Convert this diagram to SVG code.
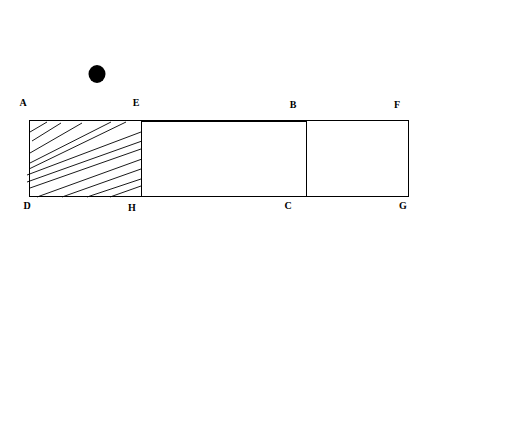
<svg xmlns="http://www.w3.org/2000/svg" width="525" height="432" viewBox="0 0 525 432">
<style>
.edge{fill:none;stroke:#000;stroke-width:1}
.hatch{fill:none;stroke:#000;stroke-width:0.9}
.lbl{font-family:"Liberation Serif","DejaVu Serif",serif;font-size:10px;font-weight:bold;fill:#000;text-anchor:middle}
</style>
<rect width="525" height="432" fill="#fff"/>
<g id="dot"><ellipse cx="97" cy="74" rx="8.5" ry="9" fill="#000"/></g>
<g id="hatching">
<line class="hatch" x1="30" y1="132" x2="47" y2="122"/>
<line class="hatch" x1="32" y1="141" x2="61" y2="123"/>
<line class="hatch" x1="30" y1="153" x2="82" y2="123"/>
<line class="hatch" x1="30" y1="163" x2="111" y2="122"/>
<line class="hatch" x1="29" y1="169" x2="126" y2="122"/>
<line class="hatch" x1="27" y1="175" x2="141" y2="132"/>
<line class="hatch" x1="27" y1="182" x2="142" y2="141"/>
<line class="hatch" x1="30" y1="188" x2="141" y2="149"/>
<line class="hatch" x1="37" y1="197" x2="142" y2="159"/>
<line class="hatch" x1="62" y1="197" x2="141" y2="169"/>
<line class="hatch" x1="87" y1="197" x2="141" y2="179"/>
<line class="hatch" x1="110" y1="197" x2="141" y2="186"/>
</g>
<g id="connectors">
<rect class="edge" x="29.5" y="120.5" width="379" height="76"/>
<line class="edge" x1="141.5" y1="120.5" x2="141.5" y2="196.5"/>
<line class="edge" x1="306.5" y1="120.5" x2="306.5" y2="196.5"/>
<line x1="141" y1="121" x2="306" y2="121" stroke="#000" stroke-width="2"/>
</g>
<g id="labels">
<text class="lbl" x="23" y="106">A</text>
<text class="lbl" x="136" y="106">E</text>
<text class="lbl" x="293" y="108">B</text>
<text class="lbl" x="397" y="108">F</text>
<text class="lbl" x="27" y="209">D</text>
<text class="lbl" x="132" y="211">H</text>
<text class="lbl" x="288" y="209">C</text>
<text class="lbl" x="403" y="209">G</text>
</g>
</svg>
